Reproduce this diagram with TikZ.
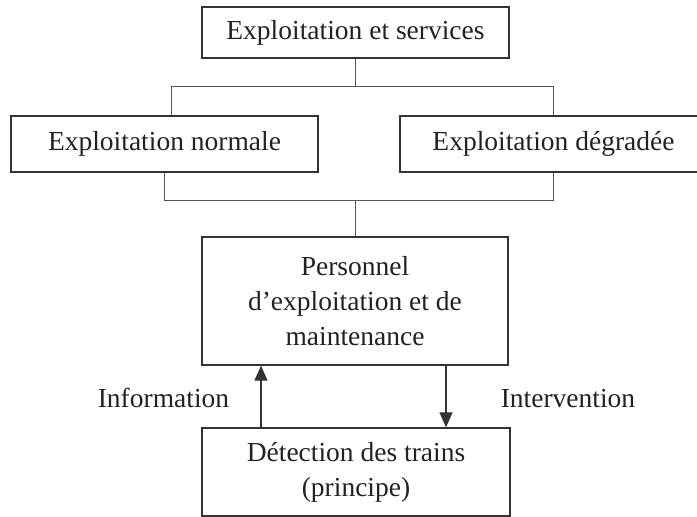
\documentclass[tikz,border=0pt]{standalone}
\usepackage{fontspec}
\setmainfont{Liberation Serif}
\usetikzlibrary{arrows.meta,positioning,calc}
\definecolor{boxline}{HTML}{333333}
\definecolor{linkline}{HTML}{555555}
\definecolor{inktext}{HTML}{222222}
\tikzstyle{block}=[rectangle, draw=boxline, line width=1.3pt, minimum width=307pt,
                   text centered, align=center, inner sep=0pt, text=inktext,
                   font=\fontsize{27.5}{35}\selectfont]
\tikzstyle{link} =[draw=linkline, line width=1pt]
\tikzstyle{arr}  =[-{Triangle[width=13pt,length=15pt]}, line width=1.2pt, draw=boxline]
\tikzstyle{tag}  =[anchor=base, text=inktext, font=\fontsize{27.5}{35}\selectfont]

\begin{document}
\begin{tikzpicture}[x=1pt, y=-1pt]
  \useasboundingbox (0,0) rectangle (697,517);

  % ── nodes ──────────────────────────────────────────────────────────────────
  \node[block, minimum height=51pt]                    (svc)  at (355.5, 32.5) {Exploitation et services};
  \node[block, minimum height=56pt]                    (norm) at (164.5, 144)  {Exploitation normale};
  \node[block, minimum height=56pt]                    (degr) at (553.5, 144)  {Exploitation dégradée};
  \node[block, minimum width=306pt, minimum height=128pt] (pers) at (355, 301)  {Personnel\\d’exploitation et de\\maintenance};
  \node[block, minimum width=308pt, minimum height=88pt]  (det)  at (356, 472)  {Détection des trains\\(principe)};

  % ── tree links ─────────────────────────────────────────────────────────────
  \coordinate (split) at ($(svc.south)+(0,28)$);
  \coordinate (merge) at ($(pers.north)+(0,-36)$);
  \draw[link] (svc.south) -- (split);
  \draw[link] ([xshift=7pt]norm.north) |- (split) -| (degr.north);
  \draw[link] (norm.south) |- (merge) -| (degr.south);
  \draw[link] (merge) -- (pers.north);

  % ── feedback ───────────────────────────────────────────────────────────────
  \draw[arr] (det.north -| 261,0) -- (pers.south -| 261,0);
  \draw[arr] (pers.south -| 446,0) -- (det.north -| 446,0);
  \node[tag] (info)  at (163.5, 407) {Information};
  \node[tag] (inter) at (568, 407)   {Intervention};

\end{tikzpicture}
\end{document}
